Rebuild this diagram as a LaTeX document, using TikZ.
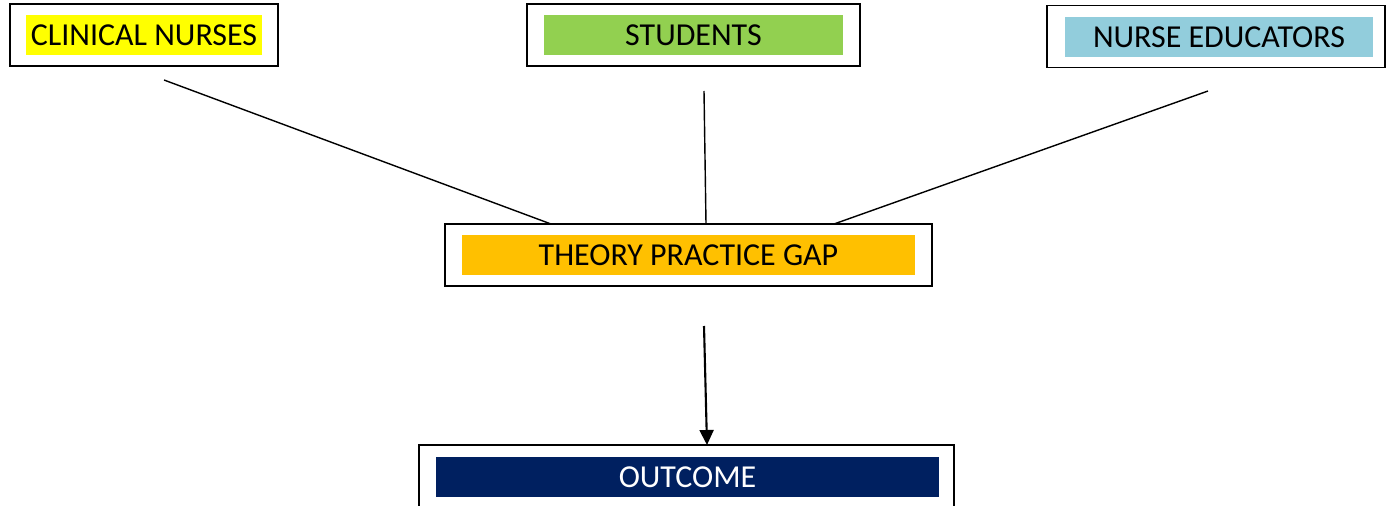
\documentclass[tikz,border=0pt]{standalone}
\usepackage{fontspec}
\setmainfont{Carlito}
\usetikzlibrary{arrows.meta, positioning}
\usepackage{xcolor}

\definecolor{cnyellow}{HTML}{FFFF00}
\definecolor{stgreen}{HTML}{92D050}
\definecolor{neblue}{HTML}{92CDDC}
\definecolor{gaporange}{HTML}{FFC000}
\definecolor{outnavy}{HTML}{002060}

\begin{document}
\begin{tikzpicture}[x=0.02cm, y=-0.02cm, >=stealth,
		frame/.style={rectangle, draw, line width=1.1pt, fill=white, minimum height=1.24cm, inner sep=0pt},
		tag/.style={rectangle, inner sep=0pt, minimum height=0.8cm, font=\fontsize{18.2}{22}\selectfont},
		line/.style={draw, line width=0.8pt},
		arrow/.style={draw, line width=1.2pt, -{Triangle[length=0.3cm, width=0.28cm]}}]

		\useasboundingbox (0,0) rectangle (1395,506);

		% outer frames
		\node [frame, minimum width=5.36cm] (nurses) at (144,35) {};
		\node [frame, minimum width=6.66cm] (students) at (693.5,35) {};
		\node [frame, minimum width=6.76cm] (educators) at (1216,36.5) {};
		\node [frame, minimum width=9.74cm] (gap) at (688.5,255) {};
		\node [frame, minimum width=10.7cm] (outcome) at (686.5,476) {};

		% coloured labels
		\node [tag, fill=cnyellow, minimum width=4.74cm] (nurses-tag) at (nurses) {CLINICAL NURSES};
		\node [tag, fill=stgreen, minimum width=6cm] (students-tag) at (students) {STUDENTS};
		\node [tag, fill=neblue, minimum width=6.16cm] (educators-tag) at (1219,37) {NURSE EDUCATORS};
		\node [tag, fill=gaporange, minimum width=9.08cm] (gap-tag) at (gap) {THEORY PRACTICE GAP};
		\node [tag, fill=outnavy, text=white, minimum width=10.06cm] (outcome-tag) at (687.5,477) {OUTCOME};

		% line ends
		\coordinate (nurses-end) at (164,80);
		\coordinate (students-end) at (704,91);
		\coordinate (educators-end) at (1208,91);
		\coordinate (gap-left) at (551,224);
		\coordinate (gap-mid) at (706,224);
		\coordinate (gap-right) at (834,224);
		\coordinate (gap-end) at (704,326);
		\coordinate (outcome-top) at (707,445);

		% Liens
		\path [line] (nurses-end) -- (gap-left);
		\path [line] (students-end) -- (gap-mid);
		\path [line] (educators-end) -- (gap-right);
		\path [arrow] (gap-end) -- (outcome-top);

	\end{tikzpicture}
\end{document}
